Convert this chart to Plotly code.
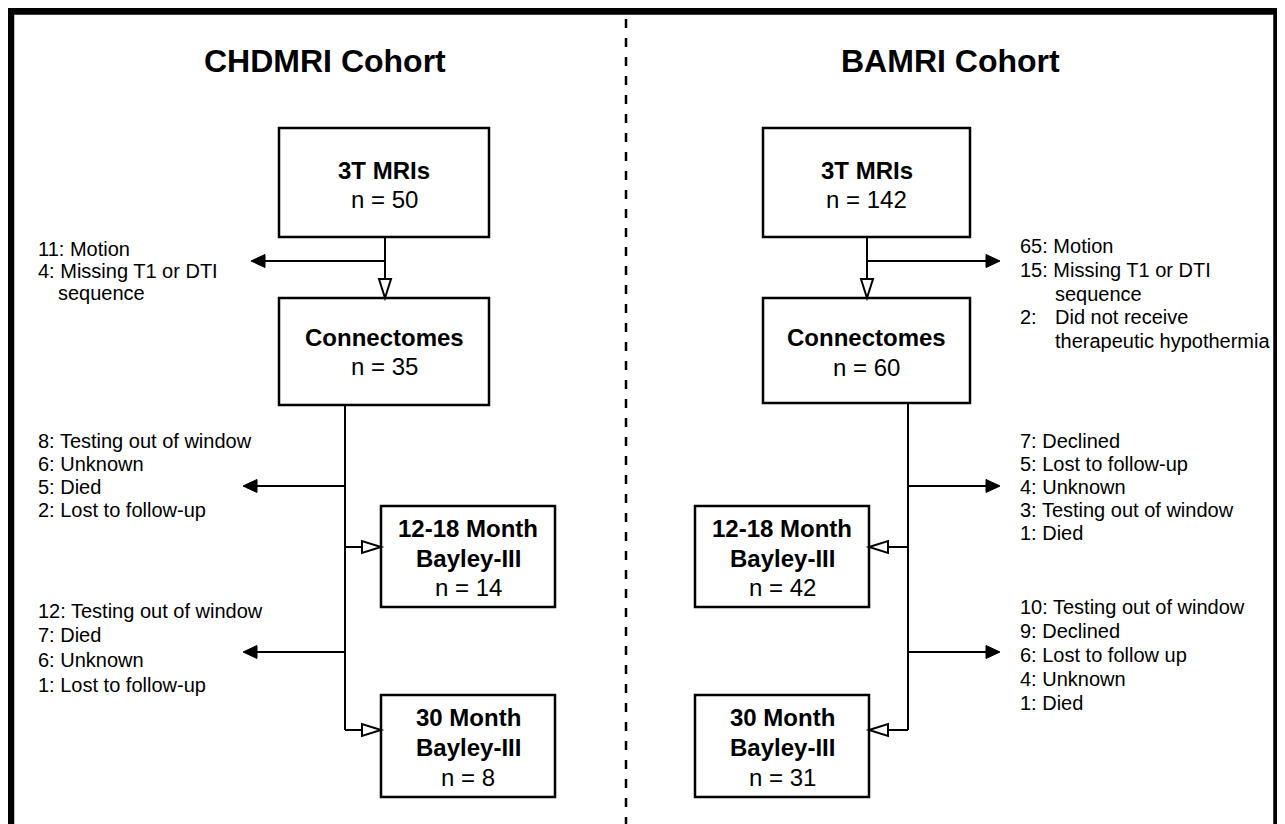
import plotly.graph_objects as go

# ---------------- data ----------------
cohorts = ["CHDMRI Cohort", "BAMRI Cohort"]
stage_titles = [["3T MRIs"], ["Connectomes"], ["12-18 Month", "Bayley-III"], ["30 Month", "Bayley-III"]]
chd_n = [50, 35, 14, 8]
bam_n = [142, 60, 42, 31]

chd_excl_mri = [("11:", "Motion"), ("4:", "Missing T1 or DTI", "sequence")]
chd_excl_1218 = [("8:", "Testing out of window"), ("6:", "Unknown"), ("5:", "Died"), ("2:", "Lost to follow-up")]
chd_excl_30 = [("12:", "Testing out of window"), ("7:", "Died"), ("6:", "Unknown"), ("1:", "Lost to follow-up")]

bam_excl_mri = [("65:", "Motion"), ("15:", "Missing T1 or DTI", "sequence"), ("2:", "Did not receive", "therapeutic hypothermia")]
bam_excl_1218 = [("7:", "Declined"), ("5:", "Lost to follow-up"), ("4:", "Unknown"), ("3:", "Testing out of window"), ("1:", "Died")]
bam_excl_30 = [("10:", "Testing out of window"), ("9:", "Declined"), ("6:", "Lost to follow up"), ("4:", "Unknown"), ("1:", "Died")]

# ---------------- layout constants (pixel space) ----------------
W, H = 1285, 824
OFF = 8  # default page body margin
FONT = "Liberation Sans, Arial, Helvetica, sans-serif"
BOX_FS = 24
SIDE_FS = 20
TITLE_FS = 32
LW_BOX = 2.5
LW_LINE = 2

shapes = []
annotations = []


def add_text(x, y, text, size, xanchor="left", bold=False):
    t = f"<b>{text}</b>" if bold else text
    annotations.append(dict(x=x, y=y, xref="x", yref="y", text=t, showarrow=False,
                            xanchor=xanchor, yanchor="middle",
                            font=dict(family=FONT, size=size, color="black")))


def add_line(x0, y0, x1, y1, width=LW_LINE, dash=None):
    ln = dict(color="black", width=width)
    if dash:
        ln["dash"] = dash
    shapes.append(dict(type="line", xref="x", yref="y", x0=x0, y0=y0, x1=x1, y1=y1, line=ln))


def add_box(x0, x1, y0, y1, title_lines, n, line_ys):
    shapes.append(dict(type="rect", xref="x", yref="y", x0=x0, x1=x1, y0=y0, y1=y1,
                       line=dict(color="black", width=LW_BOX), fillcolor="white"))
    cx = (x0 + x1) / 2
    for ln, yy in zip(title_lines, line_ys[:-1]):
        add_text(cx, yy, ln, BOX_FS, xanchor="center", bold=True)
    add_text(cx, line_ys[-1], f"n = {n}", BOX_FS, xanchor="center")


def tri_path(tipx, tipy, direction, length, half):
    if direction == "down":
        pts = [(tipx, tipy), (tipx - half, tipy - length), (tipx + half, tipy - length)]
    elif direction == "left":
        pts = [(tipx, tipy), (tipx + length, tipy - half), (tipx + length, tipy + half)]
    else:  # right
        pts = [(tipx, tipy), (tipx - length, tipy - half), (tipx - length, tipy + half)]
    return "M " + " L ".join(f"{a},{b}" for a, b in pts) + " Z"


def filled_arrow(x_from, y, x_tip):
    d = "left" if x_tip < x_from else "right"
    L = 14
    x_end = x_tip + L if d == "left" else x_tip - L
    add_line(x_from, y, x_end, y)
    shapes.append(dict(type="path", xref="x", yref="y", path=tri_path(x_tip, y, d, L, 6.5),
                       fillcolor="black", line=dict(color="black", width=1)))


def hollow_arrow(direction, tipx, tipy, start):
    L, half = 19, 6
    if direction == "down":
        add_line(tipx, start, tipx, tipy - L)
    elif direction == "left":
        add_line(start, tipy, tipx + L, tipy)
    else:
        add_line(start, tipy, tipx - L, tipy)
    shapes.append(dict(type="path", xref="x", yref="y", path=tri_path(tipx, tipy, direction, L, half),
                       fillcolor="white", line=dict(color="black", width=2)))


def add_list(x, ys, items):
    for (num, first, *rest), y in zip(items, ys):
        add_text(x, y, f"{num} {first}", SIDE_FS)


# ---------------- outer frame & divider ----------------
shapes.append(dict(type="rect", xref="x", yref="y", x0=10.5, x1=1277, y0=11, y1=860,
                   line=dict(color="black", width=7.5)))
add_line(626, 19, 626, H + 5, width=2.5, dash="9px,10px")

# ---------------- titles ----------------
add_text(325, 61, cohorts[0], TITLE_FS, xanchor="center", bold=True)
add_text(950, 61, cohorts[1], TITLE_FS, xanchor="center", bold=True)

# ---------------- left cohort ----------------
LBX0, LBX1 = 279, 489
add_box(LBX0, LBX1, 128, 237, stage_titles[0], chd_n[0], [170, 199])
add_box(LBX0, LBX1, 298, 405, stage_titles[1], chd_n[1], [337, 366])
hollow_arrow("down", 385, 298, 237)
filled_arrow(385, 261, 251)

add_text(36, 249, f"{chd_excl_mri[0][0]} {chd_excl_mri[0][1]}", SIDE_FS)
add_text(36, 271, f"{chd_excl_mri[1][0]} {chd_excl_mri[1][1]}", SIDE_FS)
add_text(56, 293, chd_excl_mri[1][2], SIDE_FS)

TRUNK_L = 345
add_line(TRUNK_L, 405, TRUNK_L, 730)
filled_arrow(TRUNK_L, 486, 243)
filled_arrow(TRUNK_L, 652, 243)
add_list(36, [441, 464, 487, 510], chd_excl_1218)
add_list(36, [611, 635, 660, 685], chd_excl_30)

SBX0, SBX1 = 381, 555
add_box(SBX0, SBX1, 506, 607, stage_titles[2], chd_n[2], [528, 558, 587])
add_box(SBX0, SBX1, 695, 797, stage_titles[3], chd_n[3], [717, 747, 777])
hollow_arrow("right", SBX0, 547, TRUNK_L)
hollow_arrow("right", SBX0, 730, TRUNK_L)

# ---------------- right cohort ----------------
RBX0, RBX1 = 763, 970
add_box(RBX0, RBX1, 128, 237, stage_titles[0], bam_n[0], [170, 199])
add_box(RBX0, RBX1, 298, 403, stage_titles[1], bam_n[1], [337, 367])
hollow_arrow("down", 867, 298, 237)
filled_arrow(867, 261, 1000)

RX = 1018
IND = 35
add_text(RX, 246, f"{bam_excl_mri[0][0]} {bam_excl_mri[0][1]}", SIDE_FS)
add_text(RX, 270, f"{bam_excl_mri[1][0]} {bam_excl_mri[1][1]}", SIDE_FS)
add_text(RX + IND, 294, bam_excl_mri[1][2], SIDE_FS)
add_text(RX, 317, bam_excl_mri[2][0], SIDE_FS)
add_text(RX + IND, 317, bam_excl_mri[2][1], SIDE_FS)
add_text(RX + IND, 341, bam_excl_mri[2][2], SIDE_FS)

TRUNK_R = 908
add_line(TRUNK_R, 403, TRUNK_R, 730)
filled_arrow(TRUNK_R, 486, 1000)
filled_arrow(TRUNK_R, 652, 1000)
add_list(RX, [441, 464, 487, 510, 533], bam_excl_1218)
add_list(RX, [607, 631, 655, 679, 703], bam_excl_30)

SRX0, SRX1 = 695, 869
add_box(SRX0, SRX1, 506, 607, stage_titles[2], bam_n[2], [528, 558, 587])
add_box(SRX0, SRX1, 695, 797, stage_titles[3], bam_n[3], [717, 747, 777])
hollow_arrow("left", SRX1, 547, TRUNK_R)
hollow_arrow("left", SRX1, 730, TRUNK_R)

fig = go.Figure()
fig.add_trace(go.Scatter(x=[OFF, W], y=[OFF, H], mode="markers", marker=dict(opacity=0),
                         hoverinfo="skip", showlegend=False))
fig.update_layout(
    width=W, height=H,
    margin=dict(l=0, r=0, t=0, b=0),
    paper_bgcolor="white", plot_bgcolor="white",
    xaxis=dict(range=[OFF, W + OFF], visible=False, fixedrange=True),
    yaxis=dict(range=[H + OFF, OFF], visible=False, fixedrange=True),
    shapes=shapes, annotations=annotations, showlegend=False,
)
fig.write_html("out.html", config={"displayModeBar": False})
